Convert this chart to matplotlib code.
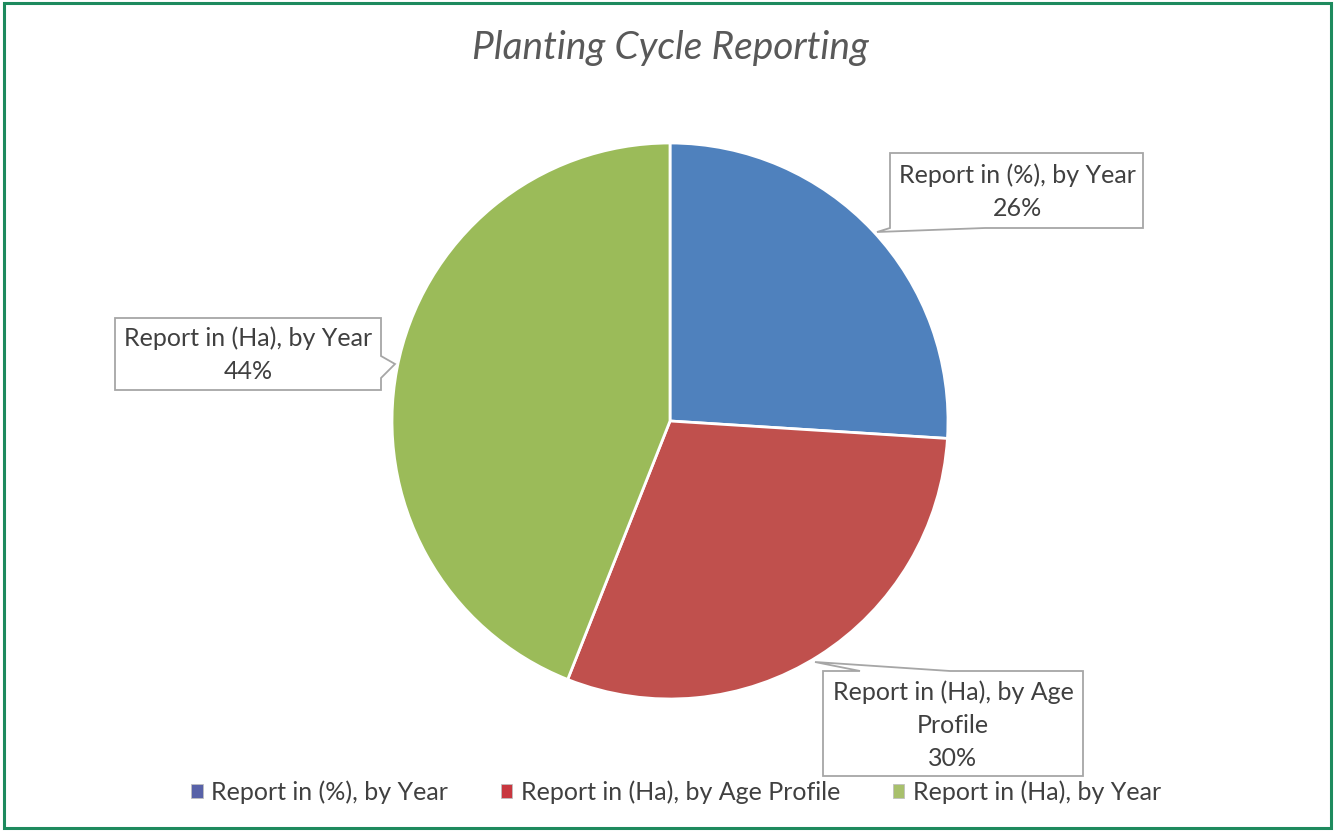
import matplotlib
matplotlib.use("Agg")
import matplotlib.pyplot as plt
from matplotlib.patches import Patch, Rectangle, Polygon

# Data
categories = ["Report in (%), by Year", "Report in (Ha), by Age Profile", "Report in (Ha), by Year"]
shares = [26, 30, 44]
box_labels = ["Report in (%), by Year\n26%", "Report in (Ha), by Age\nProfile\n30%", "Report in (Ha), by Year\n44%"]
colors = ["#4f81bd", "#c0504d", "#9bbb59"]
legend_colors = ["#5862a8", "#c8373f", "#a8c06c"]

FONT = "Lato"
TEXT = "#404040"

W, H = 1335, 831
fig = plt.figure(figsize=(W / 100, H / 100), dpi=100)
ax = fig.add_axes([0, 0, 1, 1])

# Outer frame
fig.patches.append(Rectangle((0.003, 0.004), 0.994, 0.992, transform=fig.transFigure,
                             fill=False, edgecolor="#1e8a5e", linewidth=2.2))

cx, cy, r = 670, 410, 278
ax.pie(shares, colors=colors, startangle=90, counterclock=False,
       center=(cx, cy), radius=r, frame=True,
       wedgeprops=dict(edgecolor="white", linewidth=2))
ax.set_xlim(0, W)
ax.set_ylim(0, H)
ax.set_aspect("equal")
ax.axis("off")

# Callout outlines (pixel coords measured from the top edge)
callouts = [
    [(890, 153), (1143, 153), (1143, 228), (985, 228), (877, 232), (890, 228)],
    [(823, 671), (860, 671), (815, 662), (950, 671), (1083, 671), (1083, 776), (823, 776)],
    [(115, 318), (381, 318), (381, 356), (395, 364), (381, 378), (381, 390), (115, 390)],
]
text_centers = [(1017, 192), (953, 725), (248, 355)]

for pts, (tx, ty), text in zip(callouts, text_centers, box_labels):
    ax.add_patch(Polygon([(x, H - y) for x, y in pts], closed=True, facecolor="white",
                         edgecolor="#a6a6a6", linewidth=1.3, joinstyle="miter", zorder=5))
    ax.text(tx, H - ty, text, ha="center", va="center", fontsize=18, color=TEXT,
            family=FONT, linespacing=1.52, zorder=7)

ax.text(670, H - 48, "Planting Cycle Reporting", ha="center", va="center",
        fontsize=28, style="italic", color="#595959", family=FONT)

handles = [Patch(facecolor=c, edgecolor="#bfbfbf", linewidth=0.6) for c in legend_colors]
ax.legend(handles, categories, loc="center", bbox_to_anchor=(676 / W, 1 - 792 / H),
          bbox_transform=fig.transFigure, ncol=3, frameon=False,
          prop=dict(family=FONT, size=18), labelcolor=TEXT,
          handlelength=0.45, handleheight=0.45, handletextpad=0.35, columnspacing=2.1,
          borderpad=0, borderaxespad=0)

fig.savefig("out.png", dpi=100, facecolor="white")
